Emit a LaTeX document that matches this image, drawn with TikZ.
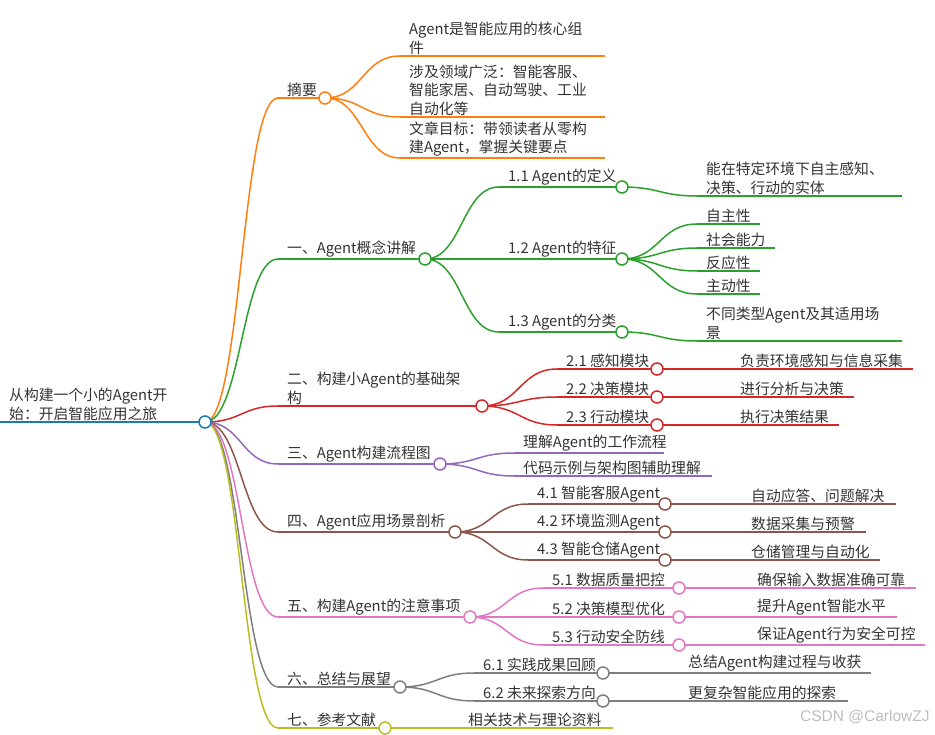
\documentclass[tikz,border=0pt]{standalone}
\usepackage{fontspec}
\setmainfont{Noto Sans CJK SC}
\newfontfamily\wmfont{Liberation Sans}
\usetikzlibrary{calc}
\definecolor{cRoot}{HTML}{1F77B4}
\definecolor{cA}{HTML}{FF7F0E}
\definecolor{cB}{HTML}{2CA02C}
\definecolor{cC}{HTML}{D62728}
\definecolor{cD}{HTML}{9467BD}
\definecolor{cE}{HTML}{8C564B}
\definecolor{cF}{HTML}{E377C2}
\definecolor{cG}{HTML}{7F7F7F}
\definecolor{cH}{HTML}{BCBD22}
\definecolor{txtc}{HTML}{333333}
\definecolor{wmc}{HTML}{BDBDBD}
% name, colour, x start, x end, y, text
\newcommand\mmnode[6]{%
  \coordinate (#1s) at (#3,#5);
  \coordinate (#1e) at (#4,#5);
  \draw[#2,ln] (#1s) -- (#1e);
  \node[txt,anchor=south west] (#1t) at ([shift={(9,-1.5)}]#1s) {#6};
}
% colour, from, to
\newcommand\mmlink[3]{%
  \draw[#1,ln] let \p1=(#2), \p2=(#3) in
    (#2) .. controls ({0.5*\x1+0.5*\x2},\y1) and ({0.5*\x1+0.5*\x2},\y2) .. (#3);
}
\newcommand\mmdot[2]{\node[dot,draw=#2] (#1c) at (#1e) {};}
\begin{document}
\begin{tikzpicture}[x=1pt,y=-1pt,
  ln/.style={line width=1.5pt},
  txt/.style={inner sep=0pt,text=txtc,align=left,font=\fontsize{14.8}{18.5}\selectfont},
  dot/.style={circle,fill=white,line width=1.5pt,minimum size=12pt,inner sep=0pt}]
\useasboundingbox (0,0) rectangle (935,735);

% ---------- nodes ----------
\mmnode{r}{cRoot,line width=2pt}{0}{205}{422}{从构建一个小的Agent开\\始：开启智能应用之旅}

\mmnode{a}{cA}{278}{325}{98}{摘要}
\mmnode{b}{cB}{278}{425}{259}{一、Agent概念讲解}
\mmnode{c}{cC}{278}{482}{406}{二、构建小Agent的基础架\\构}
\mmnode{d}{cD}{278}{440}{464}{三、Agent构建流程图}
\mmnode{e}{cE}{278}{455}{532}{四、Agent应用场景剖析}
\mmnode{f}{cF}{278}{470}{617}{五、构建Agent的注意事项}
\mmnode{g}{cG}{278}{400}{687}{六、总结与展望}
\mmnode{h}{cH}{278}{385}{728}{七、参考文献}

\mmnode{a1}{cA}{400}{605}{56}{Agent是智能应用的核心组\\件}
\mmnode{a2}{cA}{400}{605}{117}{涉及领域广泛：智能客服、\\智能家居、自动驾驶、工业\\自动化等}
\mmnode{a3}{cA}{400}{605}{158}{文章目标：带领读者从零构\\建Agent，掌握关键要点}

\mmnode{b1}{cB}{499}{622}{187}{1.1 Agent的定义}
\mmnode{b2}{cB}{499}{622}{259}{1.2 Agent的特征}
\mmnode{b3}{cB}{499}{622}{332}{1.3 Agent的分类}
\mmnode{b11}{cB}{697}{902}{196}{能在特定环境下自主感知、\\决策、行动的实体}
\mmnode{b21}{cB}{697}{760}{224}{自主性}
\mmnode{b22}{cB}{697}{775}{248}{社会能力}
\mmnode{b23}{cB}{697}{760}{271}{反应性}
\mmnode{b24}{cB}{697}{760}{294}{主动性}
\mmnode{b31}{cB}{697}{902}{341}{不同类型Agent及其适用场\\景}

\mmnode{c1}{cC}{557}{657}{369}{2.1 感知模块}
\mmnode{c2}{cC}{557}{657}{397}{2.2 决策模块}
\mmnode{c3}{cC}{557}{657}{425}{2.3 行动模块}
\mmnode{c11}{cC}{731}{913}{369}{负责环境感知与信息采集}
\mmnode{c21}{cC}{731}{854}{397}{进行分析与决策}
\mmnode{c31}{cC}{731}{839}{425}{执行决策结果}

\mmnode{d1}{cD}{514}{664}{453}{理解Agent的工作流程}
\mmnode{d2}{cD}{514}{712}{476}{代码示例与架构图辅助理解}

\mmnode{e1}{cE}{528}{665}{504}{4.1 智能客服Agent}
\mmnode{e2}{cE}{528}{665}{532}{4.2 环境监测Agent}
\mmnode{e3}{cE}{528}{665}{560}{4.3 智能仓储Agent}
\mmnode{e11}{cE}{742}{896}{504}{自动应答、问题解决}
\mmnode{e21}{cE}{742}{866}{532}{数据采集与预警}
\mmnode{e31}{cE}{742}{880}{560}{仓储管理与自动化}

\mmnode{f1}{cF}{543}{679}{588}{5.1 数据质量把控}
\mmnode{f2}{cF}{543}{679}{617}{5.2 决策模型优化}
\mmnode{f3}{cF}{543}{679}{645}{5.3 行动安全防线}
\mmnode{f11}{cF}{748}{916}{588}{确保输入数据准确可靠}
\mmnode{f21}{cF}{748}{897}{617}{提升Agent智能水平}
\mmnode{f31}{cF}{748}{925}{645}{保证Agent行为安全可控}

\mmnode{g1}{cG}{474}{603}{673}{6.1 实践成果回顾}
\mmnode{g2}{cG}{474}{603}{701}{6.2 未来探索方向}
\mmnode{g11}{cG}{679}{871}{673}{总结Agent构建过程与收获}
\mmnode{g21}{cG}{679}{848}{701}{更复杂智能应用的探索}

\mmnode{h1}{cH}{459}{613}{728}{相关技术与理论资料}

% ---------- links ----------
\mmlink{cA}{re}{as}
\mmlink{cB}{re}{bs}
\mmlink{cC}{re}{cs}
\mmlink{cD}{re}{ds}
\mmlink{cE}{re}{es}
\mmlink{cF}{re}{fs}
\mmlink{cG}{re}{gs}
\mmlink{cH}{re}{hs}

\mmlink{cA}{ae}{a1s}
\mmlink{cA}{ae}{a2s}
\mmlink{cA}{ae}{a3s}

\mmlink{cB}{be}{b1s}
\mmlink{cB}{be}{b2s}
\mmlink{cB}{be}{b3s}
\mmlink{cB}{b1e}{b11s}
\mmlink{cB}{b2e}{b21s}
\mmlink{cB}{b2e}{b22s}
\mmlink{cB}{b2e}{b23s}
\mmlink{cB}{b2e}{b24s}
\mmlink{cB}{b3e}{b31s}

\mmlink{cC}{ce}{c1s}
\mmlink{cC}{ce}{c2s}
\mmlink{cC}{ce}{c3s}
\mmlink{cC}{c1e}{c11s}
\mmlink{cC}{c2e}{c21s}
\mmlink{cC}{c3e}{c31s}

\mmlink{cD}{de}{d1s}
\mmlink{cD}{de}{d2s}

\mmlink{cE}{ee}{e1s}
\mmlink{cE}{ee}{e2s}
\mmlink{cE}{ee}{e3s}
\mmlink{cE}{e1e}{e11s}
\mmlink{cE}{e2e}{e21s}
\mmlink{cE}{e3e}{e31s}

\mmlink{cF}{fe}{f1s}
\mmlink{cF}{fe}{f2s}
\mmlink{cF}{fe}{f3s}
\mmlink{cF}{f1e}{f11s}
\mmlink{cF}{f2e}{f21s}
\mmlink{cF}{f3e}{f31s}

\mmlink{cG}{ge}{g1s}
\mmlink{cG}{ge}{g2s}
\mmlink{cG}{g1e}{g11s}
\mmlink{cG}{g2e}{g21s}

\mmlink{cH}{he}{h1s}

% ---------- dots ----------
\mmdot{r}{cRoot}
\mmdot{a}{cA}
\mmdot{b}{cB}
\mmdot{c}{cC}
\mmdot{d}{cD}
\mmdot{e}{cE}
\mmdot{f}{cF}
\mmdot{g}{cG}
\mmdot{h}{cH}
\mmdot{b1}{cB}
\mmdot{b2}{cB}
\mmdot{b3}{cB}
\mmdot{c1}{cC}
\mmdot{c2}{cC}
\mmdot{c3}{cC}
\mmdot{e1}{cE}
\mmdot{e2}{cE}
\mmdot{e3}{cE}
\mmdot{f1}{cF}
\mmdot{f2}{cF}
\mmdot{f3}{cF}
\mmdot{g1}{cG}
\mmdot{g2}{cG}

% ---------- watermark ----------
\node[inner sep=0pt,anchor=west,text=wmc,font=\wmfont\fontsize{15.5}{18}\selectfont] (wm) at (800,717) {CSDN @CarlowZJ};
\end{tikzpicture}
\end{document}
